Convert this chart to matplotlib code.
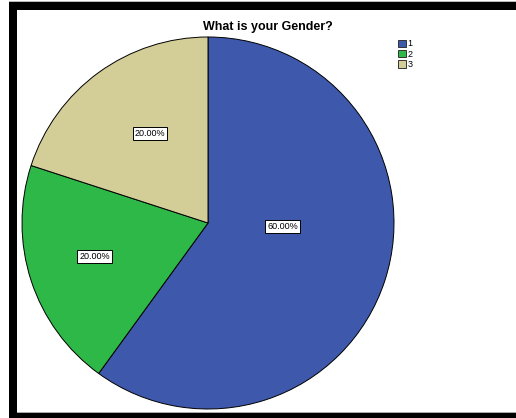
import matplotlib.pyplot as plt
from matplotlib.patches import Rectangle, Patch

plt.rcParams['font.family'] = ['Liberation Sans', 'DejaVu Sans']

categories = ["1", "2", "3"]
shares = [60.0, 20.0, 20.0]
colors = ["#3e58ac", "#2eb848", "#d3ce97"]
# label placement in axes units (SPSS style, not exactly on mid-angle)
label_pos = [(0.40, -0.02), (-0.61, -0.18), (-0.31, 0.48)]

W, H = 516, 418
fig = plt.figure(figsize=(W / 100, H / 100), dpi=100)
fig.patch.set_facecolor("white")

# frame: thick black bands on top, left and bottom
def band(x0, y0, x1, y1, color="black"):
  fig.add_artist(Rectangle((x0 / W, 1 - y1 / H), (x1 - x0) / W, (y1 - y0) / H,
                           transform=fig.transFigure, facecolor=color,
                           edgecolor="none", zorder=5))

band(9, 1, W, 2, "#bbbbbb")
band(9, 2, W, 10)
band(9, 2, 17, 418)
band(17, 412, W, 413, "#aaaaaa")
band(9, 413, W, 418)

ax = fig.add_axes([22 / W, 1 - 409 / H, 372 / W, 372 / H])
wedges, _ = ax.pie(shares, colors=colors, startangle=90, counterclock=False,
                   wedgeprops=dict(edgecolor="black", linewidth=0.7))
ax.set_xlim(-1.0, 1.0)
ax.set_ylim(-1.0, 1.0)
ax.set_aspect("equal")

for val, (lx, ly) in zip(shares, label_pos):
  ax.text(lx, ly, "{:.2f}%".format(val), fontsize=6.5, ha="center", va="center",
          bbox=dict(boxstyle="square,pad=0.2", facecolor="white",
                    edgecolor="black", linewidth=0.7))

fig.text(268 / W, 1 - 27 / H, "What is your Gender?", fontsize=9,
         fontweight="bold", ha="center", va="center")

handles = [Patch(facecolor=c, edgecolor="#333333", linewidth=0.7) for c in colors]
fig.legend(handles, categories, loc="upper left",
           bbox_to_anchor=(392 / W, 1 - 33 / H), frameon=False, fontsize=6.5,
           handlelength=0.85, handleheight=0.85, handletextpad=0.2,
           labelspacing=0.15, borderpad=0.2)

fig.savefig("out.png", dpi=100)
